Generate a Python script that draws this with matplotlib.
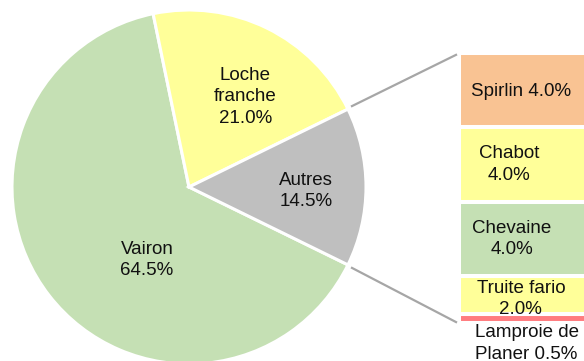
import numpy as np
import matplotlib
matplotlib.use("Agg")
import matplotlib.pyplot as plt
from matplotlib.lines import Line2D

plt.rcParams["font.family"] = ["Liberation Sans", "DejaVu Sans"]

# --- Data --------------------------------------------------------------------
pie_labels = ["Vairon", "Loche\nfranche", "Autres"]
pie_values = [64.5, 21.0, 14.5]
pie_colors = ["#c5e0b4", "#ffff99", "#bfbfbf"]

# breakdown of "Autres", listed bottom to top
bar_labels = ["Lamproie de\nPlaner ", "Truite fario\n", "Chevaine\n", "Chabot\n", "Spirlin "]
bar_values = [0.5, 2.0, 4.0, 4.0, 4.0]
bar_colors = ["#ff7c80", "#ffff99", "#c5e0b4", "#ffff99", "#f9c393"]

W, H = 584, 361
FS = 13.5
fig = plt.figure(figsize=(W / 100, H / 100), dpi=100)

# --- Pie ---------------------------------------------------------------------
cx, cy, R = 189, 187, 177
ax = fig.add_axes([(cx - R) / W, (H - cy - R) / H, 2 * R / W, 2 * R / H])
half = pie_values[2] / 100 * 360 / 2
wedges, _ = ax.pie(pie_values, colors=pie_colors, startangle=-half,
                   counterclock=False, radius=1,
                   wedgeprops=dict(edgecolor="white", linewidth=2.2))
ax.set_xlim(-1, 1)
ax.set_ylim(-1, 1)
ax.set_axis_off()
for w in wedges:
    w.set_clip_on(False)

# label positions (radius, angle in degrees)
pie_lbl_pos = [(0.476, 240.1), (0.60, 58.0), (0.661, -2.0)]
for lbl, val, (r, a) in zip(pie_labels, pie_values, pie_lbl_pos):
    t = np.deg2rad(a)
    ax.text(r * np.cos(t), r * np.sin(t), f"{lbl}\n{val:.1f}%",
            ha="center", va="center", fontsize=FS, linespacing=1.35,
            color="#111111")

# --- Bar of "Autres" ---------------------------------------------------------
bx0, btop, bbot = 458.7, 53, 323
ax2 = fig.add_axes([bx0 / W, (H - bbot) / H, (600 - bx0) / W, (bbot - btop) / H])
bottoms = np.concatenate([[0], np.cumsum(bar_values)[:-1]])
ax2.bar(0, bar_values, bottom=bottoms, width=1, align="edge",
        color=bar_colors, edgecolor="white", linewidth=2.9)
total = sum(bar_values)
ax2.set_xlim(0, 1)
ax2.set_ylim(0, total)
ax2.set_axis_off()

bar_lbl_x = [0.48, 0.44, 0.377, 0.356, 0.44]
bar_lbl_y = [b + v / 2 for b, v in zip(bottoms, bar_values)]
bar_lbl_y[0] = -1.1
bar_lbl_y[1] = 1.3
bar_lbl_y[4] -= 0.08
for lbl, val, x, y in zip(bar_labels, bar_values, bar_lbl_x, bar_lbl_y):
    ax2.text(x, y, f"{lbl}{val:.1f}%", ha="center", va="center",
             fontsize=FS, linespacing=1.35, color="#111111", clip_on=False)

# --- Connector lines ---------------------------------------------------------
to_fig = fig.transFigure.inverted()
ang = np.deg2rad(26.4)
for sgn, yb in [(1, total - 0.1), (-1, 0.05)]:
    p0 = ax.transData.transform((1.028 * np.cos(ang), sgn * 1.028 * np.sin(ang)))
    p1 = ax2.transData.transform((-0.019, yb))
    (x0, y0), (x1, y1) = to_fig.transform([p0, p1])
    fig.add_artist(Line2D([x0, x1], [y0, y1], transform=fig.transFigure,
                          color="#a6a6a6", linewidth=1.6))

fig.savefig("out.png", dpi=100)
